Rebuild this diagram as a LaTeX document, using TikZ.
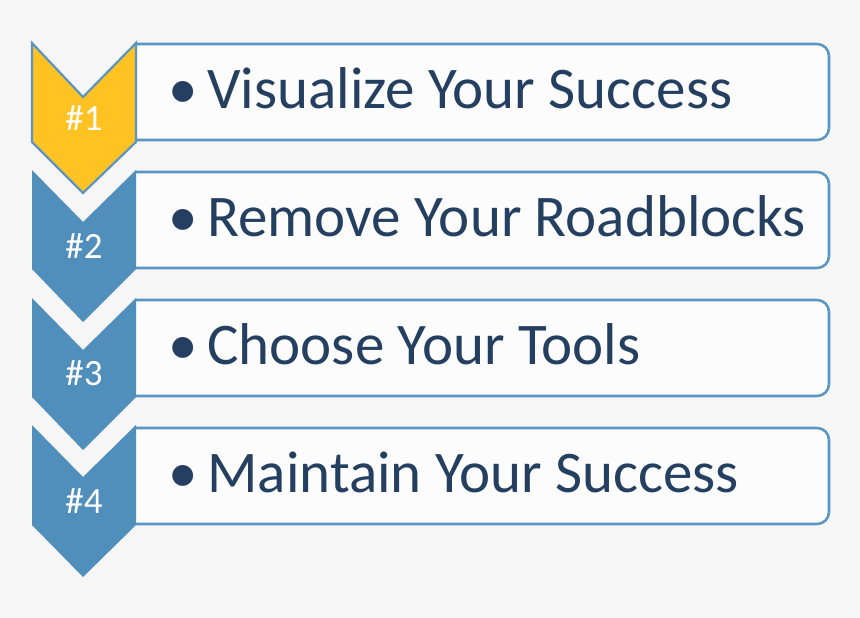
\documentclass[tikz,border=0pt]{standalone}
\usepackage{fontspec}
\setmainfont{Carlito}
\definecolor{pagegray}{HTML}{F6F6F6}
\definecolor{stepblue}{HTML}{508EBB}
\definecolor{edgeblue}{HTML}{5A95C3}
\definecolor{stepyellow}{HTML}{FFC223}
\definecolor{boxwhite}{HTML}{FCFCFC}
\definecolor{textnavy}{HTML}{243F60}
\tikzset{
	itembox/.style = { draw = edgeblue, line width = 2.6pt, fill = boxwhite, rounded corners = 12pt },
	itemtext/.style = { anchor = base west, text = textnavy, font = \fontsize{59}{64}\selectfont, inner sep = 0pt },
	numtext/.style = { text = white, font = \fontsize{37}{40}\selectfont, inner sep = 0pt }
}
\begin{document}
\begin{tikzpicture}[ x = 1pt, y = -1pt ]
		% фон
		\fill [ pagegray ] ( 0, 0 ) rectangle ( 860, 618 );
		\useasboundingbox ( 0, 0 ) rectangle ( 860, 618 );

		% #1
		\filldraw [ itembox ] ( 136, 44 ) -- ( 829, 44 ) -- ( 829, 140 ) -- ( 136, 140 );
		\filldraw [ fill = stepyellow, draw = edgeblue, line width = 2.2pt, line join = miter ] ( 32, 43 ) -- ( 83, 97 ) -- ( 136, 43 ) -- ( 136, 142 ) -- ( 83, 193 ) -- ( 32, 142 ) -- cycle;
		\node [ numtext ] ( num1 ) at ( 84, 118 ) {\#1};
		\node [ itemtext ] ( item1 ) at ( 168, 108 ) {•\,Visualize Your Success};

		% #2
		\filldraw [ itembox ] ( 136, 172 ) -- ( 829, 172 ) -- ( 829, 268 ) -- ( 136, 268 );
		\fill [ stepblue ] ( 32, 170 ) -- ( 83, 222 ) -- ( 136, 170 ) -- ( 136, 269 ) -- ( 83, 322 ) -- ( 32, 269 ) -- cycle;
		\node [ numtext ] ( num2 ) at ( 84, 246 ) {\#2};
		\node [ itemtext ] ( item2 ) at ( 168, 236 ) {•\,Remove Your Roadblocks};

		% #3
		\filldraw [ itembox ] ( 136, 300 ) -- ( 829, 300 ) -- ( 829, 396 ) -- ( 136, 396 );
		\fill [ stepblue ] ( 32, 298 ) -- ( 83, 350 ) -- ( 136, 298 ) -- ( 136, 397 ) -- ( 83, 450 ) -- ( 32, 397 ) -- cycle;
		\node [ numtext ] ( num3 ) at ( 84, 373 ) {\#3};
		\node [ itemtext ] ( item3 ) at ( 168, 364 ) {•\,Choose Your Tools};

		% #4
		\filldraw [ itembox ] ( 136, 428 ) -- ( 829, 428 ) -- ( 829, 524 ) -- ( 136, 524 );
		\fill [ stepblue ] ( 32, 425 ) -- ( 83, 477 ) -- ( 136, 425 ) -- ( 136, 525 ) -- ( 83, 577 ) -- ( 32, 525 ) -- cycle;
		\node [ numtext ] ( num4 ) at ( 84, 501 ) {\#4};
		\node [ itemtext ] ( item4 ) at ( 168, 492 ) {•\,Maintain Your Success};
	\end{tikzpicture}
\end{document}
